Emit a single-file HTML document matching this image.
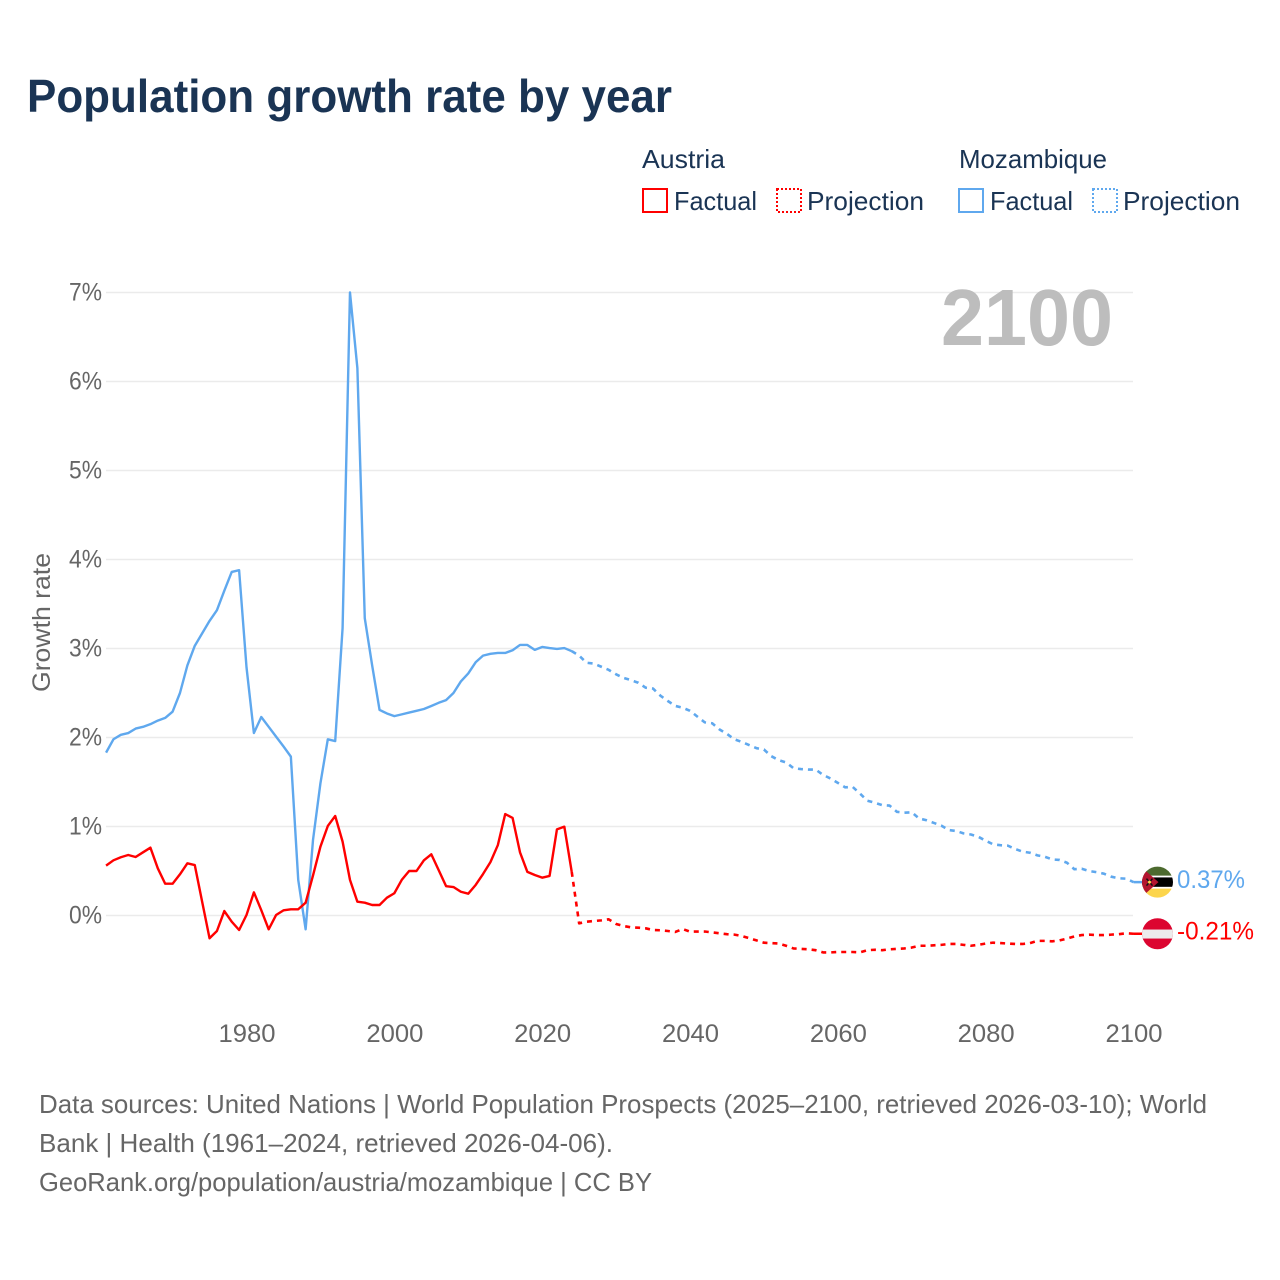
<!DOCTYPE html>
<html lang="en">
<head>
<meta charset="utf-8">
<title>Population growth rate by year</title>
<style>
html,body{margin:0;padding:0;background:#fff;}
svg{display:block;}
text{font-family:"Liberation Sans",sans-serif;}
</style>
</head>
<body>
<svg id="chart" xmlns="http://www.w3.org/2000/svg" width="1280" height="1280" viewBox="0 0 1280 1280">
  <defs>
    <clipPath id="clip-moz"><circle id="clip-moz-circle" r="15.5"/></clipPath>
    <clipPath id="clip-aut"><circle id="clip-aut-circle" r="15.5"/></clipPath>
  </defs>
  <rect width="1280" height="1280" fill="#fff"/>

  <text x="27" y="112" font-size="46" font-weight="bold" fill="#1a3454" textLength="645" lengthAdjust="spacingAndGlyphs">Population growth rate by year</text>

  <g font-size="26" fill="#1a3454">
    <text x="642" y="168" textLength="83" lengthAdjust="spacingAndGlyphs">Austria</text>
    <text x="959" y="168" textLength="148" lengthAdjust="spacingAndGlyphs">Mozambique</text>
    <rect x="643" y="189" width="24" height="23" fill="none" stroke="#ff0000" stroke-width="2"/>
    <text x="674" y="210" textLength="83" lengthAdjust="spacingAndGlyphs">Factual</text>
    <rect x="777" y="189" width="24" height="23" fill="none" stroke="#ff0000" stroke-width="2" stroke-dasharray="2 2"/>
    <text x="807" y="210" textLength="117" lengthAdjust="spacingAndGlyphs">Projection</text>
    <rect x="959" y="189" width="24" height="23" fill="none" stroke="#5fa8ee" stroke-width="2"/>
    <text x="990" y="210" textLength="83" lengthAdjust="spacingAndGlyphs">Factual</text>
    <rect x="1093" y="189" width="24" height="23" fill="none" stroke="#5fa8ee" stroke-width="2" stroke-dasharray="2 2"/>
    <text x="1123" y="210" textLength="117" lengthAdjust="spacingAndGlyphs">Projection</text>
  </g>

  <g id="grid"></g>
  <g id="y-ticks"></g>
  <g id="x-ticks"></g>

  <text transform="translate(50 692) rotate(-90)" font-size="25" fill="#666" textLength="139" lengthAdjust="spacingAndGlyphs">Growth rate</text>

  <text x="941" y="345" font-size="80" font-weight="bold" fill="#bdbdbd" textLength="172" lengthAdjust="spacingAndGlyphs">2100</text>

  <g id="series"></g>

  <g id="flag-moz">
    <rect x="-16" y="-16" width="32" height="10" fill="#4c6a2f"/>
    <rect x="-16" y="-6.5" width="32" height="13" fill="#fff"/>
    <rect x="-16" y="-4.7" width="32" height="9.4" fill="#000"/>
    <rect x="-16" y="6.5" width="32" height="10" fill="#fcd54c"/>
    <polygon points="-16,-15 1,0 -16,15" fill="#b3152f"/>
    <path d="M-11,-3.5 L-5,3.5 M-5,-3.5 L-11,3.5" stroke="#111" stroke-width="1.4"/>
    <circle cx="-8" cy="0" r="1.5" fill="#fcd54c"/>
  </g>
  <g id="flag-aut">
    <rect x="-16" y="-16" width="32" height="32" fill="#dc0530"/>
    <rect x="-16" y="-4.2" width="32" height="9" fill="#ececec"/>
  </g>

  <text id="label-moz" x="1177" font-size="25" fill="#5fa8ee" textLength="68" lengthAdjust="spacingAndGlyphs"></text>
  <text id="label-aut" x="1177" font-size="25" fill="#ff0000" textLength="77" lengthAdjust="spacingAndGlyphs"></text>

  <g font-size="26" fill="#666">
    <text x="39" y="1113" textLength="1168" lengthAdjust="spacingAndGlyphs">Data sources: United Nations | World Population Prospects (2025–2100, retrieved 2026-03-10); World</text>
    <text x="39" y="1152" textLength="574" lengthAdjust="spacingAndGlyphs">Bank | Health (1961–2024, retrieved 2026-04-06).</text>
    <text x="39" y="1191" textLength="613" lengthAdjust="spacingAndGlyphs">GeoRank.org/population/austria/mozambique | CC BY</text>
  </g>
</svg>
<script>
const factualStartYear = 1961;
const projectionStartYear = 2024;
const yTickValues = [0, 1, 2, 3, 4, 5, 6, 7];
const xTickYears = [1980, 2000, 2020, 2040, 2060, 2080, 2100];

const austriaFactual = [
  .56,.62,.654,.68,.657,.71,.762,.53,.357,.357,
  .463,.586,.567,.155,-.256,-.174,.05,-.07,-.163,.006,
  .26,.06,-.155,.005,.058,.07,.07,.144,.45,.773,
  1.006,1.118,.83,.40,.155,.144,.118,.118,.2,.25,
  .4,.5,.5,.62,.688,.51,.33,.32,.267,.245,
  .343,.466,.6,.79,1.14,1.096,.71,.49,.455,.425,
  .444,.968,.998,.49
];
const austriaProjection = [
  .49,-.088,-.07,-.062,-.055,-.043,
  -.095,-.118,-.133,-.137,-.144,-.163,-.166,-.174,-.185,-.152,
  -.182,-.18,-.18,-.19,-.2,-.21,-.215,-.23,-.255,-.28,
  -.306,-.31,-.315,-.34,-.37,-.375,-.38,-.39,-.415,-.415,
  -.41,-.41,-.41,-.414,-.39,-.385,-.39,-.38,-.375,-.37,
  -.36,-.34,-.34,-.335,-.33,-.32,-.32,-.33,-.34,-.33,
  -.315,-.305,-.31,-.315,-.32,-.32,-.31,-.285,-.285,-.29,
  -.28,-.26,-.235,-.22,-.215,-.22,-.22,-.215,-.21,-.2,-.205
];
const mozambiqueFactual = [
  1.83,1.98,2.03,2.05,2.10,2.12,2.15,2.19,2.22,2.29,
  2.50,2.81,3.03,3.17,3.31,3.43,3.65,3.86,3.88,2.79,
  2.05,2.23,2.12,2.01,1.90,1.785,.40,-.155,.85,1.485,
  1.98,1.96,3.23,7.0,6.15,3.34,2.81,2.31,2.27,2.24,
  2.26,2.28,2.30,2.32,2.354,2.39,2.42,2.50,2.63,2.72,
  2.845,2.92,2.94,2.95,2.95,2.98,3.04,3.04,2.985,3.017,
  3.005,2.995,3.005,2.97
];
const mozambiqueProjection = [
  2.97,2.92,2.84,2.83,2.795,2.76,
  2.71,2.67,2.645,2.615,2.56,2.55,2.47,2.41,2.355,2.335,
  2.30,2.235,2.17,2.16,2.09,2.04,1.98,1.95,1.915,1.88,
  1.865,1.79,1.745,1.72,1.655,1.645,1.64,1.64,1.58,1.54,
  1.49,1.44,1.445,1.37,1.29,1.267,1.24,1.235,1.165,1.155,
  1.16,1.09,1.07,1.04,1.01,.96,.95,.923,.91,.885,
  .84,.80,.79,.785,.747,.717,.705,.676,.66,.63,
  .624,.593,.52,.525,.50,.487,.47,.436,.418,.414,.375
];
const endLabels = ['0.37%', '-0.21%'];

const NS = 'http://www.w3.org/2000/svg';
const xScale = function (year) { return 246.5 + (year - 1980) * (1133.5 - 246.5) / 120; };
const yScale = function (value) { return 915.5 - value * 89; };
const plotLeft = 106;
const plotRight = 1133;
const flagX = xScale(2100) + 24;

function pathFor(values, startYear) {
  return values.map(function (v, i) {
    return (i ? 'L' : 'M') + xScale(startYear + i).toFixed(2) + ',' + yScale(v).toFixed(2);
  }).join(' ');
}

const gridGroup = document.getElementById('grid');
const yGroup = document.getElementById('y-ticks');
yTickValues.forEach(function (v) {
  const line = document.createElementNS(NS, 'line');
  
  
  line.setAttribute('x1', plotLeft);
  line.setAttribute('x2', plotRight);
  line.setAttribute('y1', yScale(v));
  line.setAttribute('y2', yScale(v));
  line.setAttribute('stroke', '#ebebeb');
  line.setAttribute('stroke-width', '1.5');
  gridGroup.appendChild(line);

  const t = document.createElementNS(NS, 'text');
  
  
  t.setAttribute('x', 69);
  t.setAttribute('y', yScale(v) + 8);
  t.setAttribute('font-size', '25');
  t.setAttribute('fill', '#666');
  t.setAttribute('textLength', '33');
  t.setAttribute('lengthAdjust', 'spacingAndGlyphs');
  t.textContent = v + '%';
  yGroup.appendChild(t);
});

const xGroup = document.getElementById('x-ticks');
xTickYears.forEach(function (year) {
  const t = document.createElementNS(NS, 'text');
  
  
  t.setAttribute('x', xScale(year) - 28);
  t.setAttribute('y', 1042);
  t.setAttribute('font-size', '25');
  t.setAttribute('fill', '#666');
  t.setAttribute('textLength', '57');
  t.setAttribute('lengthAdjust', 'spacingAndGlyphs');
  t.textContent = year;
  xGroup.appendChild(t);
});

const seriesGroup = document.getElementById('series');
function addLine(d, color, dashed, name) {
  const p = document.createElementNS(NS, 'path');
  
  
  p.setAttribute('d', d);
  p.setAttribute('fill', 'none');
  p.setAttribute('stroke', color);
  p.setAttribute('stroke-width', dashed ? '2.6' : '2.4');
  p.setAttribute('stroke-linejoin', 'round');
  if (dashed) p.setAttribute('stroke-dasharray', '5 5');
  seriesGroup.appendChild(p);
}
const mozLast = mozambiqueProjection[mozambiqueProjection.length - 1];
const autLast = austriaProjection[austriaProjection.length - 1];
addLine(pathFor(mozambiqueProjection, projectionStartYear), '#5fa8ee', true, 'mozambique-projection-line');
addLine(pathFor(mozambiqueFactual, factualStartYear), '#5fa8ee', false, 'mozambique-factual-line');
addLine(pathFor(austriaProjection, projectionStartYear), '#ff0000', true, 'austria-projection-line');
addLine(pathFor(austriaFactual, factualStartYear), '#ff0000', false, 'austria-factual-line');
addLine('M' + xScale(2100) + ',' + yScale(mozLast) + ' L' + flagX + ',' + yScale(mozLast), '#5fa8ee', false, 'mozambique-end-connector');
addLine('M' + xScale(2100) + ',' + yScale(autLast) + ' L' + flagX + ',' + yScale(autLast), '#ff0000', false, 'austria-end-connector');

const flagMoz = document.getElementById('flag-moz');
const flagAut = document.getElementById('flag-aut');
function placeFlag(flag, clipId, y) {
  const wrap = document.createElementNS(NS, 'g');
  
  
  wrap.setAttribute('clip-path', 'url(#' + clipId + ')');
  flag.parentNode.insertBefore(wrap, flag);
  wrap.appendChild(flag);
  wrap.setAttribute('transform', 'translate(' + flagX + ' ' + y + ')');
}
placeFlag(flagMoz, 'clip-moz', yScale(mozLast));
placeFlag(flagAut, 'clip-aut', yScale(autLast));

const labelMoz = document.getElementById('label-moz');
labelMoz.setAttribute('y', yScale(mozLast) + 6);
labelMoz.textContent = endLabels[0];
const labelAut = document.getElementById('label-aut');
labelAut.setAttribute('y', yScale(autLast) + 6);
labelAut.textContent = endLabels[1];
</script>
</body>
</html>
